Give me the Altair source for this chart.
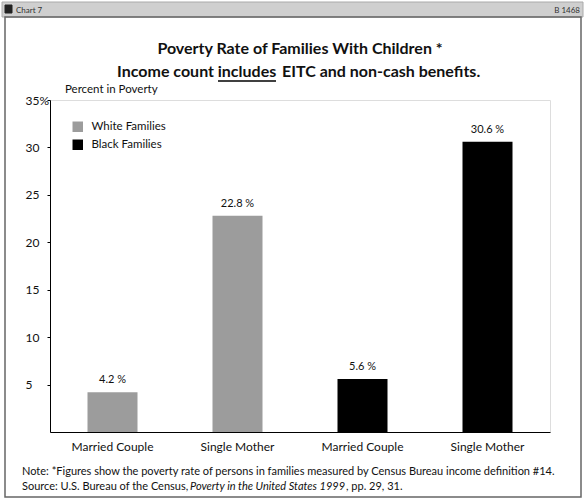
import altair as alt
import pandas as pd

groups = ["White Families", "White Families", "Black Families", "Black Families"]
types = ["Married Couple", "Single Mother", "Married Couple", "Single Mother"]
values = [4.2, 22.8, 5.6, 30.6]
y_ticks = [5, 10, 15, 20, 25, 30, 35]
legend_labels = ["White Families", "Black Families"]
legend_colors = ["#9c9c9c", "#000000"]

title1 = "Poverty Rate of Families With Children *"
title2a = "Income count"
title2b = "includes"
title2c = "EITC and non-cash benefits."
y_label = "Percent in Poverty"
note1 = "Note: *Figures show the poverty rate of persons in families measured by Census Bureau income definition #14."
src_a = "Source: U.S. Bureau of the Census,"
src_b = "Poverty in the United States 1999"
src_c = ", pp. 29, 31."

df = pd.DataFrame({
    "key": [f"{g}|{t}" for g, t in zip(groups, types)],
    "group": groups,
    "type": types,
    "value": values,
})
order = list(df["key"])

FONT = "Lato"

xenc = alt.X("key:N", sort=order,
             scale=alt.Scale(paddingInner=0.6, paddingOuter=0.3),
             axis=alt.Axis(title=None, labelExpr="split(datum.label,'|')[1]",
                           labelAngle=0, ticks=False, labelPadding=9,
                           labelFontSize=12, labelColor="#111", domainColor="#000",
                           labelFont=FONT))
yenc = alt.Y("value:Q", scale=alt.Scale(domain=[0, 35], nice=False),
             axis=alt.Axis(title=None, values=y_ticks, grid=False, tickSize=3,
                           labelAlign="left", labelPadding=22,
                           labelExpr="datum.value == 35 ? '35%' : datum.label",
                           labelFontSize=12, labelColor="#111", domainColor="#000",
                           tickColor="#000", labelFont=FONT))

base = alt.Chart(df)
bars = base.mark_bar().encode(
    x=xenc, y=yenc,
    color=alt.Color("group:N",
                    scale=alt.Scale(domain=legend_labels, range=legend_colors),
                    legend=alt.Legend(title=None, orient="none", legendX=22, legendY=21,
                                      symbolType="square", symbolSize=110,
                                      symbolStrokeWidth=0, labelFontSize=11.5,
                                      labelFont=FONT, labelColor="#111",
                                      rowPadding=5, labelOffset=8)),
)
labels = base.transform_calculate(
    lab="format(datum.value, '.1f') + ' %'"
).mark_text(baseline="bottom", dy=-7, fontSize=11, font=FONT, color="#111").encode(
    x=alt.X("key:N", sort=order), y="value:Q", text="lab:N")


def txt(text, x, y, size=11, align="left", weight="normal", style="normal", color="#111"):
    return alt.Chart(alt.Data(values=[{}])).mark_text(
        align=align, baseline="alphabetic", fontSize=size, fontWeight=weight,
        fontStyle=style, font=FONT, color=color
    ).encode(x=alt.value(x), y=alt.value(y), text=alt.value(text))


def rect(x, x2, y, y2, fill="transparent", stroke="#000", sw=1):
    return alt.Chart(alt.Data(values=[{}])).mark_rect(
        fill=fill, stroke=stroke, strokeWidth=sw
    ).encode(x=alt.value(x), x2=alt.value(x2), y=alt.value(y), y2=alt.value(y2))


def rule(x, x2, y, y2, color="#000", sw=1):
    return alt.Chart(alt.Data(values=[{}])).mark_rule(color=color, strokeWidth=sw).encode(
        x=alt.value(x), x2=alt.value(x2), y=alt.value(y), y2=alt.value(y2))


deco = [
    rect(-48, 533, -98, -83, fill="#cfcfcf", stroke="#aaaaaa"),
    rect(-45, -38, -95, -87, fill="#222", stroke="#222"),
    txt("Chart 7", -34, -87, size=8, color="#333"),
    txt("B 1468", 530, -87, size=8, align="right", color="#333"),
    rect(-45, 531, -83, 397, stroke="#666", sw=1.5),
    txt(title1, 250, -46, size=16, align="center", weight="bold"),
    txt(title2a, 164, -23, size=16, align="right", weight="bold"),
    txt(title2b, 197, -23, size=16, align="center", weight="bold"),
    txt(title2c, 232, -23, size=16, align="left", weight="bold"),
    rule(168, 226, -19, -19, sw=1.3),
    txt(y_label, 15, -7, size=11.5),
    txt(note1, -28, 375, size=11),
    txt(src_a, -28, 390, size=11),
    txt(src_b, 140, 390, size=11, style="italic"),
    txt(src_c, 296, 390, size=11),
]

chart = alt.layer(bars, labels, *deco).properties(
    width=500, height=332,
    autosize=alt.AutoSizeParams(type="none"),
    padding={"left": 50, "top": 100, "right": 34, "bottom": 69},
).configure_view(stroke="#000", strokeWidth=1).configure(font=FONT)

chart.save("out.html", embed_options={"renderer": "svg", "actions": False})
